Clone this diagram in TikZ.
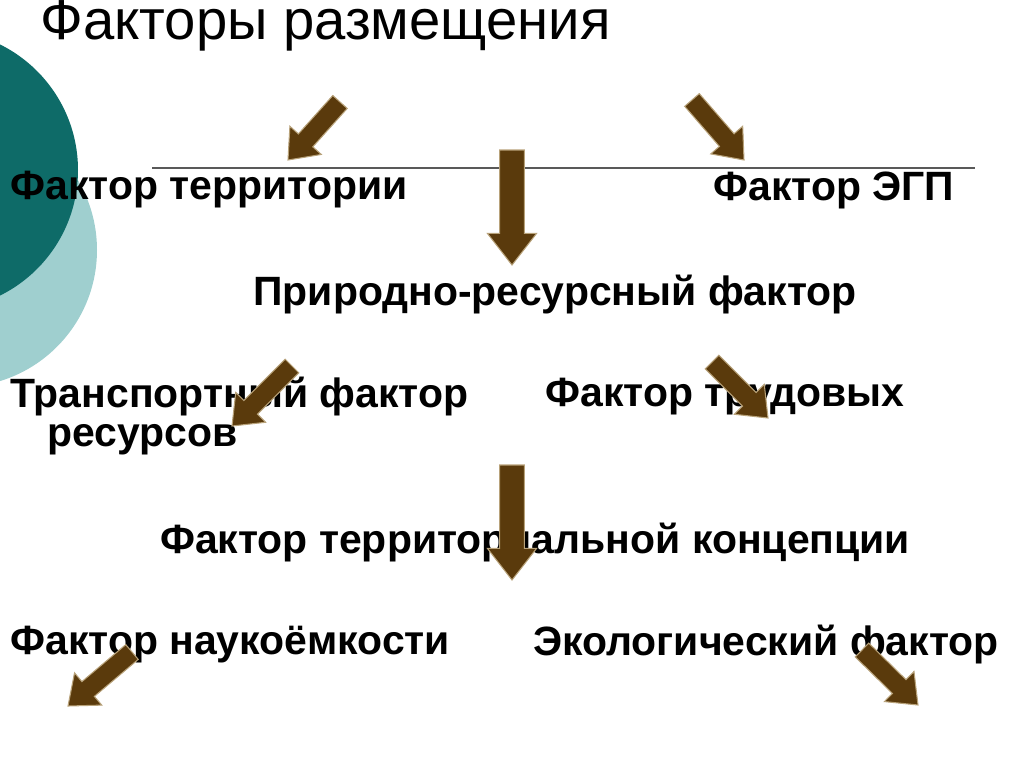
\documentclass[tikz,border=0pt]{standalone}
\usepackage{fontspec}
\setmainfont{Liberation Sans}
\usetikzlibrary{calc}
\definecolor{tealdark}{HTML}{0E6B68}
\definecolor{teallight}{HTML}{9FCFCF}
\definecolor{arrbrown}{HTML}{5A3A0C}
\definecolor{arredge}{HTML}{B8A27A}
\tikzset{
  lbl/.style={font=\bfseries\fontsize{23.3}{27}\selectfont, inner sep=0pt, anchor=west, text=black},
  ttl/.style={font=\fontsize{32}{36}\selectfont, inner sep=0pt, anchor=west, text=black},
}
\newcommand{\barrow}[5]{% tail, tip, shaft half, head half, head len (pt)
  \coordinate (bA) at (#1); \coordinate (bB) at (#2);
  \coordinate (bH) at ($(bB)!#5pt!(bA)$);
  \filldraw[fill=arrbrown, draw=arredge, line width=0.6pt]
    ($(bA)!#3pt!90:(bB)$) -- ($(bH)!#3pt!90:(bB)$) -- ($(bH)!#4pt!90:(bB)$) -- (bB)
    -- ($(bH)!#4pt!-90:(bB)$) -- ($(bH)!#3pt!-90:(bB)$) -- ($(bA)!#3pt!-90:(bB)$) -- cycle;
}
\begin{document}
\begin{tikzpicture}[x=0.02cm,y=-0.02cm]
\useasboundingbox (0,0) rectangle (1024,767);
\begin{scope}
\clip (0,0) rectangle (1024,767);
\fill[teallight] (-40,250) circle (137);
\fill[tealdark] (-62,170) circle (140);
\end{scope}
\draw[gray!70!black, line width=0.6pt] (152,168) -- (975,168);
\node[ttl] (title) at (40,26) {Факторы размещения};
\node[lbl] (t1) at (10,190) {Фактор территории};
\node[lbl] (t2) at (713,190) {Фактор ЭГП};
\node[lbl, anchor=center] (t3) at (555,295) {Природно-ресурсный фактор};
\node[lbl] (t4) at (10,397) {Транспортный фактор};
\node[lbl] (t5) at (545,397) {Фактор трудовых};
\node[lbl] (t6) at (47,440) {ресурсов};
\node[lbl, anchor=center] (t7) at (535,543) {Фактор территориальной концепции};
\node[lbl] (t8) at (10,645) {Фактор наукоёмкости};
\node[lbl] (t9) at (533,645) {Экологический фактор};
\barrow{340,102}{288,160}{5.5}{12}{15}
\barrow{692,100}{744,160}{5.5}{12}{15}
\barrow{512,150}{512,265}{7}{14}{18}
\barrow{292,366}{232,426}{5.5}{12}{15}
\barrow{712,362}{768,418}{5.5}{12}{15}
\barrow{512,465}{512,580}{7}{14}{18}
\barrow{132,652}{68,706}{5.5}{12}{15}
\barrow{862,650}{918,705}{5.5}{12}{15}
\end{tikzpicture}
\end{document}
